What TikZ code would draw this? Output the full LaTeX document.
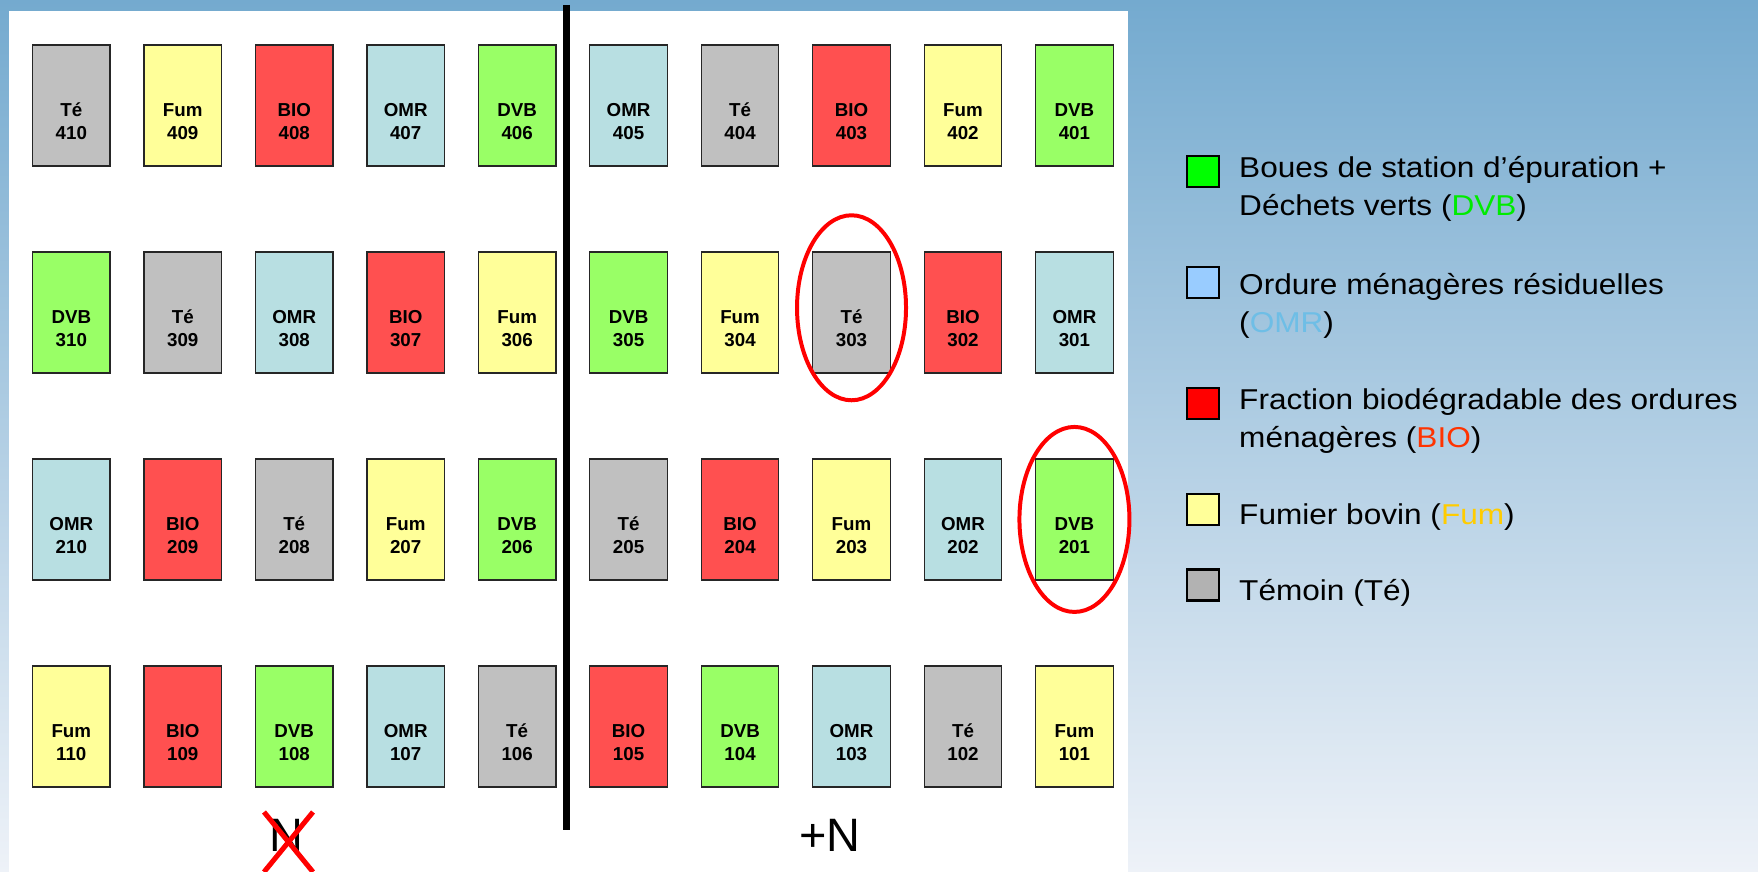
\documentclass[tikz,border=0pt]{standalone}
\usepackage{fontspec}
\setmainfont{Liberation Sans}
\newfontfamily\keyfont[FakeStretch=1.1]{Liberation Sans}
\usetikzlibrary{positioning}

\definecolor{cte}{RGB}{192,192,192}
\definecolor{cfum}{RGB}{255,255,153}
\definecolor{cbio}{RGB}{255,80,80}
\definecolor{comr}{RGB}{184,223,226}
\definecolor{cdvb}{RGB}{153,255,102}
\definecolor{bgtop}{RGB}{116,170,207}
\definecolor{bgbot}{RGB}{238,242,248}
\definecolor{kdvb}{RGB}{0,255,0}
\definecolor{komr}{RGB}{153,204,255}
\definecolor{kbio}{RGB}{255,0,0}
\definecolor{kfum}{RGB}{255,255,153}
\definecolor{kte}{RGB}{178,178,178}
\definecolor{tdvb}{RGB}{0,235,0}
\definecolor{tomr}{RGB}{110,190,230}
\definecolor{tbio}{RGB}{255,51,0}
\definecolor{tfum}{RGB}{255,204,0}

\begin{document}
\begin{tikzpicture}[
  x=0.03cm, y=-0.03cm,
  node distance=2.54cm and 0.98cm,
  plot/.style n args={2}{draw=black!85, line width=1.1pt, fill=#1, inner sep=0pt,
    minimum width=2.325cm, minimum height=3.63cm, label={[plotlabel]center:#2}},
  plotlabel/.style={yshift=-13.5pt, align=center, font=\fontsize{16}{19.6}\selectfont\bfseries},
  te/.style={plot={cte}{#1}},
  fum/.style={plot={cfum}{#1}},
  bio/.style={plot={cbio}{#1}},
  omr/.style={plot={comr}{#1}},
  dvb/.style={plot={cdvb}{#1}},
  ring/.style={draw=red, line width=3.4pt},
  divider/.style={line width=6.4pt},
  side/.style={font=\fontsize{40}{48}\selectfont, inner sep=0pt},
  cross/.style={draw=red, line width=4.3pt},
  key/.style={draw, line width=2pt, minimum width=0.96cm, minimum height=0.93cm, inner sep=0pt},
  keytext/.style={anchor=base west, align=left, inner sep=0pt, font=\keyfont\fontsize{24.5}{32.4}\selectfont}
]
\useasboundingbox (0,0) rectangle (1758,872);
\shade[top color=bgtop, bottom color=bgbot] (0,0) rectangle (1758,872);
\fill[white] (9,11) rectangle (1128,872);

% block 4
\node[te={Té\\410}] (p410) at (71.3,105.5) {};
\node[fum={Fum\\409}, right=of p410] (p409) {};
\node[bio={BIO\\408}, right=of p409] (p408) {};
\node[omr={OMR\\407}, right=of p408] (p407) {};
\node[dvb={DVB\\406}, right=of p407] (p406) {};
\node[omr={OMR\\405}, right=of p406] (p405) {};
\node[te={Té\\404}, right=of p405] (p404) {};
\node[bio={BIO\\403}, right=of p404] (p403) {};
\node[fum={Fum\\402}, right=of p403] (p402) {};
\node[dvb={DVB\\401}, right=of p402] (p401) {};

% block 3
\node[dvb={DVB\\310}, below=of p410] (p310) {};
\node[te={Té\\309}, right=of p310] (p309) {};
\node[omr={OMR\\308}, right=of p309] (p308) {};
\node[bio={BIO\\307}, right=of p308] (p307) {};
\node[fum={Fum\\306}, right=of p307] (p306) {};
\node[dvb={DVB\\305}, right=of p306] (p305) {};
\node[fum={Fum\\304}, right=of p305] (p304) {};
\node[te={Té\\303}, right=of p304] (p303) {};
\node[bio={BIO\\302}, right=of p303] (p302) {};
\node[omr={OMR\\301}, right=of p302] (p301) {};

% block 2
\node[omr={OMR\\210}, below=of p310] (p210) {};
\node[bio={BIO\\209}, right=of p210] (p209) {};
\node[te={Té\\208}, right=of p209] (p208) {};
\node[fum={Fum\\207}, right=of p208] (p207) {};
\node[dvb={DVB\\206}, right=of p207] (p206) {};
\node[te={Té\\205}, right=of p206] (p205) {};
\node[bio={BIO\\204}, right=of p205] (p204) {};
\node[fum={Fum\\203}, right=of p204] (p203) {};
\node[omr={OMR\\202}, right=of p203] (p202) {};
\node[dvb={DVB\\201}, right=of p202] (p201) {};

% block 1
\node[fum={Fum\\110}, below=of p210] (p110) {};
\node[bio={BIO\\109}, right=of p110] (p109) {};
\node[dvb={DVB\\108}, right=of p109] (p108) {};
\node[omr={OMR\\107}, right=of p108] (p107) {};
\node[te={Té\\106}, right=of p107] (p106) {};
\node[bio={BIO\\105}, right=of p106] (p105) {};
\node[dvb={DVB\\104}, right=of p105] (p104) {};
\node[omr={OMR\\103}, right=of p104] (p103) {};
\node[te={Té\\102}, right=of p103] (p102) {};
\node[fum={Fum\\101}, right=of p102] (p101) {};

% N / +N split
\draw[divider] (566.5,5) -- (566.5,830);
\node[side] (nminus) at (286.5,835.5) {N};
\node[side] (nplus) at (830,835.5) {+N};
\draw[cross] ([shift={(-22.5,-23.5)}]nminus.center) -- ([shift={(26.5,36.5)}]nminus.center);
\draw[cross] ([shift={(26.5,-23.5)}]nminus.center) -- ([shift={(-22.5,36.5)}]nminus.center);

% circled plots
\draw[ring] ([yshift=4pt]p303.center) ellipse [x radius=1.635cm, y radius=2.775cm];
\draw[ring] (p201.center) ellipse [x radius=1.65cm, y radius=2.775cm];

% legend
\node[key, fill=kdvb] (kdvb) at (1203,171.5) {};
\node[keytext] (ldvb) at (1239,215.5) {Boues de station d’épuration +\\Déchets verts (\textcolor{tdvb}{DVB})};
\node[key, fill=komr] (komr) at (1203,282.5) {};
\node[keytext] (lomr) at (1239,332) {Ordure ménagères résiduelles\\(\textcolor{tomr}{OMR})};
\node[key, fill=kbio] (kbio) at (1203,403.5) {};
\node[keytext] (lbio) at (1239,447) {Fraction biodégradable des ordures\\ménagères (\textcolor{tbio}{BIO})};
\node[key, fill=kfum] (kfum) at (1203,509.5) {};
\node[keytext] (lfum) at (1239,524) {Fumier bovin (\textcolor{tfum}{Fum})};
\node[key, fill=kte] (kte) at (1203,585) {};
\node[keytext] (lte) at (1239,600) {Témoin (Té)};
\end{tikzpicture}
\end{document}
